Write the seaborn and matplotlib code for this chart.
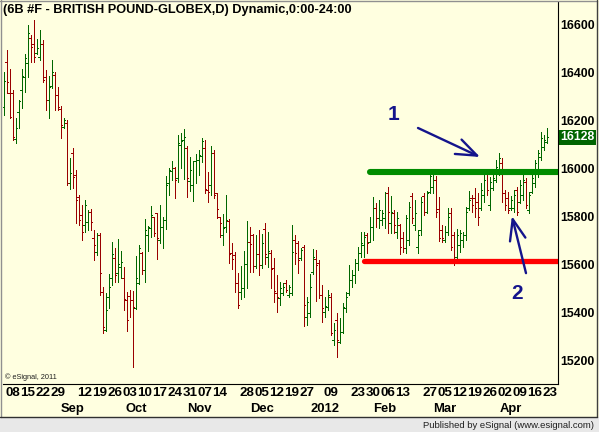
import numpy as np
import pandas as pd
import matplotlib
matplotlib.use("Agg")
import matplotlib.pyplot as plt
from matplotlib.lines import Line2D
from matplotlib.patches import Rectangle
import seaborn as sns

# ---- data ----
opens = [16255, 16443, 16311, 16311, 16123, 16234, 16325, 16380, 16436, 16540,
         16519, 16480, 16464, 16519, 16380, 16283, 16341, 16387, 16304, 16248,
         16172, 16186, 15936, 16061, 15971, 15879, 15804, 15762, 15775, 15817,
         15707, 15651, 15721, 15485, 15325, 15464, 15540, 15624, 15561, 15589,
         15540, 15450, 15467, 15450, 15415, 15519, 15647, 15575, 15721, 15749,
         15794, 15811, 15700, 15756, 15783, 15936, 15989, 15999, 15957, 16096,
         16117, 16082, 15947, 15929, 16031, 16033, 16050, 16082, 15908, 15929,
         16064, 15894, 15794, 15721, 15756, 15781, 15644, 15637, 15519, 15485,
         15499, 15600, 15693, 15721, 15592, 15642, 15596, 15744, 15628, 15644,
         15582, 15480,
         15457, 15478, 15519, 15471, 15478, 15700, 15686, 15624, 15672, 15381,
         15394, 15568, 15620, 15603, 15471, 15401, 15422, 15464, 15283, 15367,
         15276, 15318, 15415, 15478, 15533, 15554, 15603, 15644, 15679, 15721,
         15693,
         15756, 15832, 15790, 15783, 15790, 15897, 15769, 15811, 15735, 15762,
         15707, 15665, 15700, 15883, 15762, 15672, 15742, 15883, 15818, 15901,
         15922, 15950, 15828, 15742, 15700, 15735, 15811, 15721, 15630, 15679,
         15700,
         15721, 15832, 15874, 15874, 15860, 15832, 15888, 15985, 15846, 15916,
         15950, 15985, 16020, 15895, 15874, 15832, 15832, 15909, 15860, 15888,
         15943, 15825, 15902, 15936, 15985, 16048, 16089, 16110]
highs = [16401, 16491, 16411, 16327, 16207, 16283, 16411, 16477, 16596, 16554,
         16619, 16536, 16575, 16533, 16408, 16383, 16452, 16401, 16336, 16258,
         16207, 16202, 16040, 16082, 15992, 15887, 15846, 15867, 15825, 15830,
         15742, 15731, 15728, 15506, 15478, 15558, 15693, 15665, 15703, 15654,
         15589, 15485, 15492, 15489, 15633, 15679, 15651, 15787, 15758, 15842,
         15797, 15814, 15846, 15797, 15967, 15999, 16031, 16006, 16137, 16147,
         16161, 16092, 16044, 16031, 16058, 16075, 16124, 16117, 15985, 16092,
         16075, 15897, 15797, 15807, 15887, 15786, 15686, 15651, 15564, 15592,
         15654, 15781, 15753, 15725, 15721, 15742, 15725, 15769, 15735, 15658,
         15624, 15554,
         15526, 15519, 15533, 15512, 15762, 15721, 15696, 15665, 15679, 15464,
         15557, 15662, 15658, 15617, 15512, 15464, 15492, 15478, 15353, 15394,
         15374, 15436, 15485, 15596, 15575, 15619, 15672, 15735, 15735, 15728,
         15794,
         15881, 15853, 15867, 15825, 15901, 15922, 15883, 15825, 15818, 15767,
         15735, 15804, 15860, 15897, 15867, 15742, 15881, 15897, 15906, 15992,
         15971, 15967, 15881, 15762, 15758, 15832, 15832, 15735, 15744, 15742,
         15735,
         15839, 15906, 15888, 15916, 15895, 15936, 15971, 15995, 15964, 15978,
         16034, 16061, 16041, 15909, 15902, 15884, 15909, 15923, 15950, 15971,
         15957, 15902, 15971, 16034, 16075, 16152, 16138, 16166]
lows = [16220, 16311, 16207, 16116, 16105, 16165, 16251, 16318, 16380, 16443,
        16443, 16477, 16450, 16359, 16241, 16207, 16332, 16241, 16241, 16127,
        16165, 15929, 15911, 15915, 15771, 15762, 15700, 15733, 15742, 15742,
        15617, 15637, 15471, 15311, 15322, 15415, 15512, 15526, 15526, 15540,
        15408, 15322, 15380, 15172, 15411, 15515, 15557, 15526, 15654, 15714,
        15717, 15619, 15686, 15668, 15744, 15887, 15950, 15876, 15943, 15999,
        15953, 15881, 15906, 15864, 15936, 15971, 16026, 15897, 15860, 15887,
        15874, 15790, 15714, 15679, 15735, 15603, 15578, 15485, 15415, 15453,
        15464, 15499, 15568, 15568, 15582, 15554, 15582, 15600, 15589, 15499,
        15443, 15401,
        15429, 15471, 15485, 15464, 15471, 15600, 15564, 15617, 15342, 15346,
        15381, 15558, 15447, 15457, 15360, 15381, 15408, 15304, 15262, 15214,
        15269, 15311, 15401, 15471, 15506, 15519, 15575, 15631, 15631, 15644,
        15693,
        15700, 15753, 15749, 15762, 15749, 15728, 15728, 15728, 15707, 15642,
        15651, 15644, 15679, 15769, 15742, 15644, 15721, 15804, 15811, 15894,
        15894, 15797, 15697, 15693, 15693, 15721, 15658, 15596, 15617, 15651,
        15672,
        15700, 15825, 15818, 15798, 15763, 15825, 15860, 15888, 15825, 15909,
        15943, 15971, 15860, 15825, 15811, 15825, 15818, 15804, 15853, 15867,
        15832, 15811, 15895, 15923, 15964, 16034, 16075, 16106]
closes = [16364, 16359, 16214, 16130, 16165, 16280, 16383, 16457, 16564, 16505,
          16464, 16502, 16519, 16366, 16283, 16339, 16401, 16304, 16255, 16179,
          16202, 15936, 15980, 15964, 15867, 15783, 15733, 15846, 15817, 15774,
          15679, 15721, 15561, 15339, 15408, 15506, 15642, 15554, 15600, 15610,
          15453, 15367, 15450, 15422, 15540, 15665, 15575, 15742, 15756, 15804,
          15728, 15707, 15756, 15783, 15929, 15992, 15999, 15950, 16106, 16114,
          16128, 15957, 15992, 16028, 16033, 16054, 16114, 15911, 15901, 16061,
          15887, 15828, 15769, 15749, 15783, 15642, 15619, 15519, 15429, 15499,
          15600, 15693, 15683, 15592, 15642, 15596, 15689, 15642, 15656, 15578,
          15489, 15464,
          15499, 15506, 15492, 15506, 15651, 15647, 15617, 15658, 15429, 15443,
          15506, 15631, 15596, 15471, 15415, 15425, 15471, 15311, 15325, 15283,
          15318, 15422, 15464, 15533, 15554, 15603, 15644, 15686, 15714, 15686,
          15756,
          15832, 15790, 15825, 15811, 15894, 15818, 15818, 15762, 15790, 15672,
          15665, 15790, 15836, 15790, 15811, 15721, 15860, 15818, 15894, 15967,
          15950, 15818, 15707, 15707, 15735, 15797, 15672, 15617, 15721, 15728,
          15721,
          15818, 15867, 15846, 15832, 15798, 15909, 15950, 15909, 15943, 15957,
          16006, 16041, 15895, 15846, 15825, 15867, 15888, 15818, 15930, 15950,
          15846, 15888, 15957, 16020, 16061, 16124, 16117, 16128]

first_day = "2011-08-03"
holidays = ["2011-09-05", "2011-11-24", "2011-12-26", "2012-01-02",
            "2012-01-16", "2012-02-20"]
day_labels = ["2011-08-08", "2011-08-15", "2011-08-22", "2011-08-29",
              "2011-09-12", "2011-09-19", "2011-09-26", "2011-10-03",
              "2011-10-10", "2011-10-17", "2011-10-24", "2011-10-31",
              "2011-11-07", "2011-11-14", "2011-11-28", "2011-12-05",
              "2011-12-12", "2011-12-19", "2011-12-27", "2012-01-09",
              "2012-01-23", "2012-01-30", "2012-02-06", "2012-02-13",
              "2012-02-27", "2012-03-05", "2012-03-12", "2012-03-19",
              "2012-03-26", "2012-04-02", "2012-04-09", "2012-04-16",
              "2012-04-23"]
month_labels = ["Sep", "Oct", "Nov", "Dec", "2012", "Feb", "Mar", "Apr"]
y_ticks = [15200, 15400, 15600, 15800, 16000, 16200, 16400, 16600]

resistance, resistance_from = 15985, "2012-01-27"
support, support_from = 15612, "2012-01-25"
last_price = 16128
# drawn annotations: (label, label pos, arrow tail, arrow tip) in (bar, price)
notes = [("1", (130, 16225), (138, 16167), (158.7, 16046)),
         ("2", (171, 15479), (174, 15562), (169.3, 15800))]

title = "(6B #F - BRITISH POUND-GLOBEX,D) Dynamic,0:00-24:00"

BG = "#ffffe0"
UP, DOWN = "#006600", "#990000"
NAVY = "#14148c"

# ---- frame ----
df = pd.DataFrame({"open": opens, "high": highs, "low": lows, "close": closes})
n = len(df)
# trading calendar, a few sessions past the last bar for the axis labels
cal = pd.bdate_range(first_day, periods=n + 3, freq="C", holidays=holidays)
df["date"] = cal[:n]
df["dir"] = np.where(df["close"] >= df["open"], "up", "down")
pos = {d: i for i, d in enumerate(cal)}

rows = []
for i, r in df.iterrows():
    rows += [(3 * i, i, r.low, r.dir), (3 * i, i, r.high, r.dir),
             (3 * i + 1, i - 0.5, r.open, r.dir), (3 * i + 1, i, r.open, r.dir),
             (3 * i + 2, i, r.close, r.dir), (3 * i + 2, i + 0.5, r.close, r.dir)]
segs = pd.DataFrame(rows, columns=["seg", "x", "y", "dir"])

sns.set_theme(style="white")
plt.rcParams["font.family"] = ["Liberation Sans", "DejaVu Sans"]

W, H = 599, 432
fig = plt.figure(figsize=(W / 100, H / 100), dpi=100, facecolor=BG)
ax = fig.add_axes([3 / W, 1 - 384 / H, 555 / W, 382 / H], facecolor=BG)

sns.lineplot(data=segs, x="x", y="y", units="seg", hue="dir", estimator=None,
             sort=False, palette={"up": UP, "down": DOWN}, linewidth=0.72,
             legend=False, antialiased=False, ax=ax)

ax.set_xlim(-1 / 3, n + 2.667)
ax.set_ylim(15100, 16692)

# support / resistance
x0 = pos[pd.Timestamp(resistance_from)]
ax.plot([x0, n + 10], [resistance, resistance], color="#008c00", lw=4.4,
        solid_capstyle="round", zorder=3, clip_on=True)
x0 = pos[pd.Timestamp(support_from)]
ax.plot([x0, n + 10], [support, support], color="#ff0000", lw=3.8,
        solid_capstyle="round", zorder=3, clip_on=True)

for txt, lp, tail, tip in notes:
    ax.annotate("", xy=tip, xytext=tail, zorder=4,
                arrowprops=dict(arrowstyle="->,head_length=1.0,head_width=0.38",
                                mutation_scale=15, lw=1.7, color=NAVY,
                                shrinkA=0, shrinkB=0))
    ax.text(lp[0], lp[1], txt, color=NAVY, fontsize=15, fontweight="bold",
            ha="center", va="center", zorder=4)

# axes styling
for s in ["left", "top"]:
    ax.spines[s].set_visible(False)
for s in ["right", "bottom"]:
    ax.spines[s].set_color("black")
    ax.spines[s].set_linewidth(0.8)
ax.yaxis.tick_right()
ax.set_yticks(y_ticks, [str(v) for v in y_ticks])
ax.tick_params(axis="y", length=0, pad=1.5, labelsize=8.8, labelcolor="black")
for t in ax.get_yticklabels():
    t.set_fontweight("bold")

xt = [pos[pd.Timestamp(d)] for d in day_labels]
ax.set_xticks(xt, [pd.Timestamp(d).strftime("%d") for d in day_labels])
ax.tick_params(axis="x", length=0, pad=1.8, labelsize=9.6, labelcolor="black")
for t in ax.get_xticklabels():
    t.set_fontweight("bold")
ax.set_xlabel("")
ax.set_ylabel("")

month_first = df.groupby(df["date"].dt.to_period("M")).head(1).index[1:]
for i, name in zip(month_first, month_labels):
    ax.annotate(name, xy=(i + 2, 0), xycoords=("data", "axes fraction"),
                xytext=(0, -18), textcoords="offset points", ha="center",
                va="center", fontsize=9.4, fontweight="bold", color="black")

ax.annotate(str(last_price), xy=(1, last_price), xycoords=("axes fraction", "data"),
            xytext=(1.6, 0), textcoords="offset points", ha="left", va="center",
            fontsize=8.8, fontweight="bold", color="white",
            bbox=dict(boxstyle="square,pad=0.12", fc="#006400", ec="none"))

ax.text(0.004, 0.018, "\u00a9 eSignal, 2011", transform=ax.transAxes,
        fontsize=5.3, color="#202020", ha="left", va="center")

# title, outer frame, footer
fig.text(3 / W, 1 - 10 / H, title, fontsize=9.2, fontweight="bold",
         ha="left", va="center", color="black")
fig.patches.append(Rectangle((0, 0), 1, 1 - 417 / H, transform=fig.transFigure,
                             fc="#e8e8e8", ec="none", zorder=0))
for xs, ys, c in [((0, 597 / W), (1 - 0.5 / H,) * 2, "#909090"),
                  ((0.5 / W,) * 2, (1 - 417 / H, 1), "#909090"),
                  ((596.5 / W,) * 2, (1 - 417 / H, 1), "#404040"),
                  ((0, 597 / W), (1 - 416.5 / H,) * 2, "#303030")]:
    fig.add_artist(Line2D(xs, ys, transform=fig.transFigure, color=c, lw=1.0))
fig.text(594 / W, 1 - 425 / H, "Published by eSignal (www.esignal.com)",
         fontsize=6.8, color="#202020", ha="right", va="center")

fig.savefig("out.png", dpi=100, facecolor=BG)
